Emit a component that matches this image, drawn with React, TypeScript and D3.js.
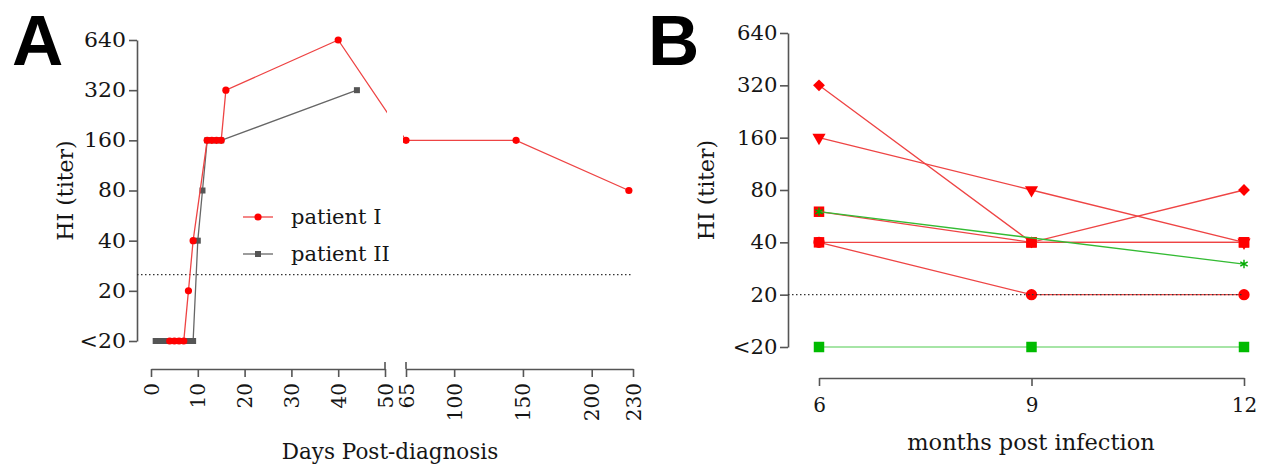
import React, { useEffect, useRef } from "react";
import * as d3 from "d3";

// shared titer axis (10 stands for "<20")
const titerTicks = [10, 20, 40, 80, 160, 320, 640];
const titerLabels = ["<20", "20", "40", "80", "160", "320", "640"];

// panel A - days post-diagnosis
const p1Days = [4, 5, 6, 7, 8, 9, 12, 13, 14, 15, 16, 40, 65, 145, 227];
const p1Titer = [10, 10, 10, 10, 20, 40, 160, 160, 160, 160, 320, 640, 160, 160, 80];
const p2Days = [1, 2, 3, 4, 5, 6, 7, 8, 9, 10, 11, 12, 13, 14, 15, 44];
const p2Titer = [10, 10, 10, 10, 10, 10, 10, 10, 10, 40, 80, 160, 160, 160, 160, 320];
const dayTicksLeft = [0, 10, 20, 30, 40, 50];
const dayTicksRight = [65, 100, 150, 200, 230];
const cutoffA = 25;

// panel B - months post infection
const months = [6, 9, 12];
const bGreenSquare = [10, 10, 10];
const bSquareFlat = [40, 40, 40];
const bCircle = [40, 20, 20];
const bTriangle = [160, 80, 40];
const bDiamond = [320, 40, 80];
const bSquare = [60, 40, 40];
const bGreenStar = [60, null, 30];
const cutoffB = 20;

const FONT = "DejaVu Serif, serif";
const TEXT = "#151515";
const AXIS = "#555";
const RED = "#ff0000";
const RED_LINE = "#ee4444";

const App = () => {
  const ref = useRef<SVGSVGElement>(null);

  useEffect(() => {
    const svg = d3.select(ref.current);
    svg.selectAll("*").remove();

    const styleAxis = (g) => {
      g.selectAll(".domain").attr("stroke", AXIS).attr("stroke-width", 1.6);
      g.selectAll(".tick line").attr("stroke", AXIS).attr("stroke-width", 1.6);
      g.selectAll("text").attr("fill", TEXT).style("font-family", FONT).style("font-size", "20px");
    };
    const label = (sel, size) => sel.style("font-family", FONT).style("font-size", size).attr("fill", TEXT);

    // ---------- Panel A ----------
    const yA = d3.scaleLog().base(2).domain([10, 640]).range([341, 40]);
    const xL = d3.scaleLinear().domain([0, 50]).range([151, 385]);
    const xR = d3.scaleLinear().domain([65, 230]).range([406, 633]);
    const xA = (d) => (d <= 50 ? xL(d) : xR(d));

    svg.append("text").attr("x", 12).attr("y", 65).text("A")
      .style("font-family", "Liberation Sans, Arial, sans-serif").style("font-weight", "bold").style("font-size", "71px");

    const gyA = svg.append("g").attr("transform", "translate(137,0)")
      .call(d3.axisLeft(yA).tickValues(titerTicks).tickFormat((d, i) => titerLabels[i]).tickSize(8).tickSizeOuter(0).tickPadding(2));
    styleAxis(gyA);
    gyA.selectAll("text").attr("transform", "scale(1.1,1)");

    const xAxisY = 369;
    const gxL = svg.append("g").attr("transform", `translate(0,${xAxisY})`)
      .call(d3.axisBottom(xL).tickValues(dayTicksLeft).tickSize(8).tickSizeOuter(0));
    const gxR = svg.append("g").attr("transform", `translate(0,${xAxisY})`)
      .call(d3.axisBottom(xR).tickValues(dayTicksRight).tickSize(8).tickSizeOuter(0));
    [gxL, gxR].forEach((g) => {
      styleAxis(g);
      g.selectAll("text").attr("transform", "rotate(-90)").attr("text-anchor", "end")
        .attr("y", 0).attr("x", -14).attr("dy", "0.35em");
    });
    // break marks
    [xL(50), xR(65)].forEach((bx) => {
      svg.append("line").attr("x1", bx).attr("x2", bx).attr("y1", xAxisY - 7).attr("y2", xAxisY)
        .attr("stroke", AXIS).attr("stroke-width", 1.6);
    });

    label(svg.append("text").attr("transform", `translate(73,${(yA(10) + yA(640)) / 2}) rotate(-90)`)
      .attr("text-anchor", "middle").text("HI (titer)"), "22px");
    label(svg.append("text").attr("x", 390).attr("y", 459).attr("text-anchor", "middle").text("Days Post-diagnosis"), "21.5px");

    // cutoff
    svg.append("line").attr("x1", 137).attr("x2", xR(230)).attr("y1", yA(cutoffA)).attr("y2", yA(cutoffA))
      .attr("stroke", "#333").attr("stroke-width", 1.3).attr("stroke-dasharray", "1.5,2.5");

    // clip hides the break gap
    const defs = svg.append("defs");
    const clip = defs.append("clipPath").attr("id", "gapclip");
    clip.append("rect").attr("x", 0).attr("y", 0).attr("width", 387).attr("height", 468);
    clip.append("rect").attr("x", 403).attr("y", 0).attr("width", 866).attr("height", 468);

    const lineA = d3.line().x((d) => xA(d[0])).y((d) => yA(d[1]));
    const p2 = p2Days.map((d, i) => [d, p2Titer[i]]);
    const p1 = p1Days.map((d, i) => [d, p1Titer[i]]);

    const plotA = svg.append("g").attr("clip-path", "url(#gapclip)");
    plotA.append("path").attr("d", lineA(p2)).attr("fill", "none").attr("stroke", "#666").attr("stroke-width", 1.3);
    plotA.selectAll(".sq").data(p2).join("rect")
      .attr("x", (d) => xA(d[0]) - 3).attr("y", (d) => yA(d[1]) - 3).attr("width", 6).attr("height", 6).attr("fill", "#555");
    plotA.append("path").attr("d", lineA(p1)).attr("fill", "none").attr("stroke", RED_LINE).attr("stroke-width", 1.3);
    plotA.selectAll(".ci").data(p1).join("circle")
      .attr("cx", (d) => xA(d[0])).attr("cy", (d) => yA(d[1])).attr("r", 3.6).attr("fill", RED);

    // legend
    const leg = svg.append("g");
    leg.append("line").attr("x1", 243).attr("x2", 273).attr("y1", 217).attr("y2", 217).attr("stroke", RED_LINE).attr("stroke-width", 1.3);
    leg.append("circle").attr("cx", 258).attr("cy", 217).attr("r", 3.6).attr("fill", RED);
    label(leg.append("text").attr("x", 291).attr("y", 224).text("patient I"), "21px");
    leg.append("line").attr("x1", 243).attr("x2", 273).attr("y1", 254).attr("y2", 254).attr("stroke", "#666").attr("stroke-width", 1.3);
    leg.append("rect").attr("x", 255).attr("y", 251).attr("width", 6).attr("height", 6).attr("fill", "#555");
    label(leg.append("text").attr("x", 291).attr("y", 261).text("patient II"), "21px");

    // ---------- Panel B ----------
    const yB = d3.scaleLog().base(2).domain([10, 640]).range([347, 33]);
    const xB = d3.scaleLinear().domain([6, 12]).range([819, 1244]);

    svg.append("text").attr("x", 648).attr("y", 65).text("B")
      .style("font-family", "Liberation Sans, Arial, sans-serif").style("font-weight", "bold").style("font-size", "71px");

    const gyB = svg.append("g").attr("transform", "translate(788,0)")
      .call(d3.axisLeft(yB).tickValues(titerTicks).tickFormat((d, i) => titerLabels[i]).tickSize(8).tickSizeOuter(0).tickPadding(2));
    styleAxis(gyB);
    gyB.selectAll("text").attr("transform", "scale(1.06,1)");

    const gxB = svg.append("g").attr("transform", "translate(0,378)")
      .call(d3.axisBottom(xB).tickValues(months).tickFormat(d3.format("d")).tickSize(8).tickSizeOuter(0).tickPadding(12));
    styleAxis(gxB);

    label(svg.append("text").attr("transform", `translate(714,${(yB(10) + yB(640)) / 2}) rotate(-90)`)
      .attr("text-anchor", "middle").text("HI (titer)"), "22px");
    label(svg.append("text").attr("x", 1031).attr("y", 450).attr("text-anchor", "middle").text("months post infection"), "22.5px");

    const diamond = { draw: (ctx, size) => { const r = Math.sqrt(size / 2); ctx.moveTo(0, -r); ctx.lineTo(r, 0); ctx.lineTo(0, r); ctx.lineTo(-r, 0); ctx.closePath(); } };

    const seriesB = [
      { v: bGreenSquare, shape: d3.symbolSquare, size: 110, line: "#88dd88", fill: "#00bb00" },
      { v: bSquareFlat, shape: d3.symbolSquare, size: 110, line: RED_LINE, fill: RED },
      { v: bCircle, shape: d3.symbolCircle, size: 100, line: RED_LINE, fill: RED },
      { v: bTriangle, shape: d3.symbolTriangle, size: 75, line: RED_LINE, fill: RED, rot: 180 },
      { v: bDiamond, shape: diamond, size: 70, line: RED_LINE, fill: RED },
      { v: bSquare, shape: d3.symbolSquare, size: 110, line: RED_LINE, fill: RED },
      { v: bGreenStar, shape: d3.symbolAsterisk, size: 50, line: "#33bb33", fill: "none", stroke: "#00aa00" },
    ];

    const lineB = d3.line().x((d) => xB(d[0])).y((d) => yB(d[1]));
    const plotB = svg.append("g");
    seriesB.forEach((s) => {
      const valid = months.map((m, i) => [m, s.v[i]]).filter((d) => d[1] != null);
      plotB.append("path").attr("d", lineB(valid)).attr("fill", "none").attr("stroke", s.line).attr("stroke-width", 1.3);
      plotB.selectAll(null).data(valid).join("path")
        .attr("d", d3.symbol().type(s.shape).size(s.size)())
        .attr("transform", (d) => `translate(${xB(d[0])},${yB(d[1])})${s.rot ? ` rotate(${s.rot})` : ""}`)
        .attr("fill", s.fill).attr("stroke", s.stroke || "none").attr("stroke-width", 1.4);
    });

    svg.append("line").attr("x1", 788).attr("x2", xB(12)).attr("y1", yB(cutoffB)).attr("y2", yB(cutoffB))
      .attr("stroke", "#333").attr("stroke-width", 1.3).attr("stroke-dasharray", "1.5,2.5");
  }, []);

  return (
    <svg ref={ref} width={1269} height={468}
      style={{ position: "absolute", left: 0, top: 0, background: "#fff", display: "block" }} />
  );
};

export default App;
